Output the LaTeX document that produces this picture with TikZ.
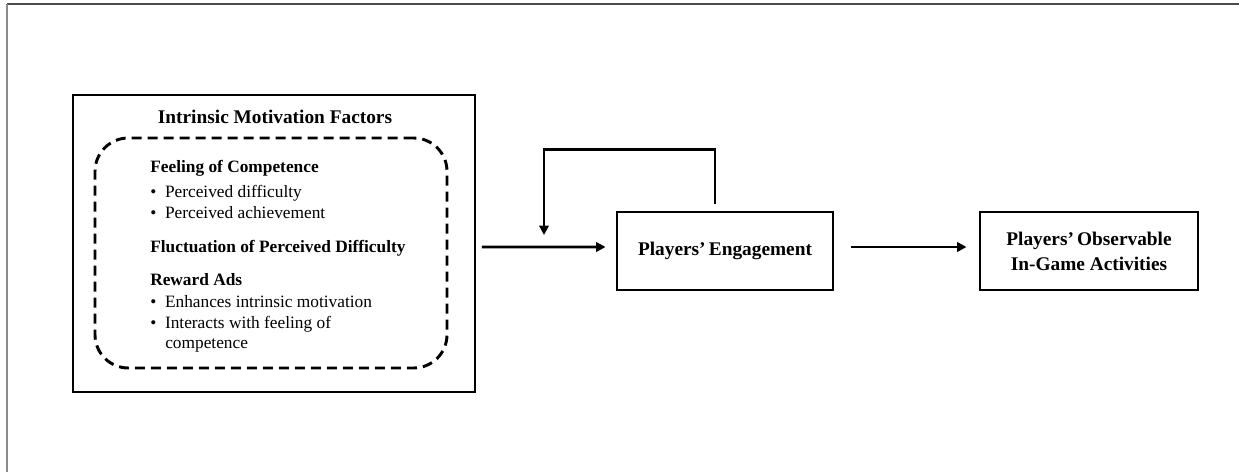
\documentclass[tikz,border=0pt]{standalone}
\usepackage{fontspec}
\setmainfont{Liberation Serif}
\usetikzlibrary{arrows.meta}

\tikzset{
  box/.style={draw, line width=2.2pt, inner sep=0pt},
  head/.style={font=\fontsize{14.5}{18.75}\selectfont\bfseries, align=center},
  sub/.style={anchor=base west, inner sep=0pt, font=\fontsize{13}{15.5}\selectfont\bfseries},
  item/.style={anchor=base west, inner sep=0pt, font=\fontsize{13}{15.5}\selectfont},
  arr/.style={line width=2.2pt, -{Triangle[length=7pt,width=7pt]}}
}

\begin{document}
\begin{tikzpicture}[x=0.75pt, y=-0.75pt]
      \useasboundingbox (0,0) rectangle (1239,472);
      % page frame
      \draw[line width=1.3pt, black!70] (7,4) -- (1239,4);
      \draw[line width=1.3pt, black!45] (7,4) -- (7,472);

      \node[box, minimum width=301.5pt, minimum height=222.75pt] (imf) at (274,243.5) {};
      \node[box, dashed, dash pattern=on 7.5pt off 4.5pt, rounded corners=25pt, minimum width=264pt, minimum height=172.5pt] (inner) at (271,253) {};
      \node[head, anchor=base] (title) at (275,123) {Intrinsic Motivation Factors};

      \node[sub] (comp) at (150,172) {Feeling of Competence};
      \node[sub] (fluct) at (150,252) {Fluctuation of Perceived Difficulty};
      \node[sub] (ads) at (150,285) {Reward Ads};
      \foreach \y/\txt in {197/Perceived difficulty, 218/Perceived achievement, 307/Enhances intrinsic motivation, 328/Interacts with feeling of}
        \node[item] (b\y) at (150,\y) {\textbullet\hspace{6.5pt}\txt};
      \node[item] (cont) at (165,348) {competence};

      \node[box, head, minimum width=162pt, minimum height=58.5pt] (eng) at (725,251) {Players'\,Engagement};
      \node[box, head, minimum width=163.5pt, minimum height=58.5pt] (obs) at (1089,251) {Players'\,Observable\\In-Game Activities};

      \coordinate (fbout) at ([xshift=-7.5pt,yshift=5.25pt]eng.north);
      \coordinate (fbin) at (544,235);

      \draw[arr] ([xshift=4pt,yshift=-2.6pt]imf.east) -- ([xshift=-7.5pt,yshift=3pt]eng.west);
      \draw[arr] ([xshift=12.75pt,yshift=3pt]eng.east) -- ([xshift=-9pt,yshift=3pt]obs.west);
      \draw[arr] (fbout) -- ++(0,-54) -| (fbin);
    \end{tikzpicture}
\end{document}
